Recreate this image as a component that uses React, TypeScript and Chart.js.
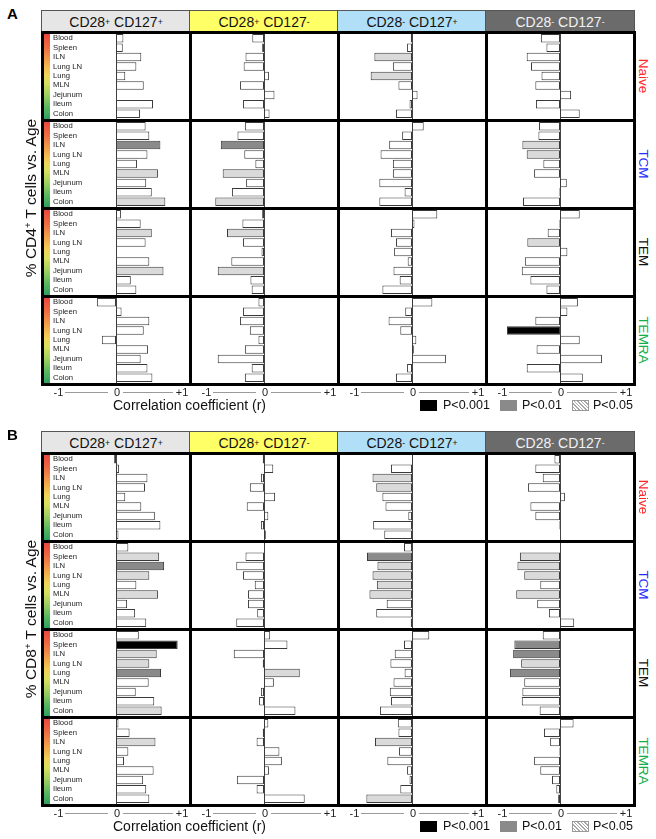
import React, { useEffect, useRef } from 'react';
import { Chart, registerables } from 'chart.js';

Chart.register(...registerables);

const FONT = '"Liberation Sans", Arial, Helvetica, sans-serif';

// ---------- categories / labels ----------
const TISSUES = ['Blood', 'Spleen', 'ILN', 'Lung LN', 'Lung', 'MLN', 'Jejunum', 'Ileum', 'Colon'];
const SUBSETS = ['Naive', 'TCM', 'TEM', 'TEMRA'];
const SUBSET_COLORS = ['#ff2626', '#1f2bff', '#111111', '#13ad4a'];
const CD28_SIGNS = ['+', '+', '-', '-'];
const CD127_SIGNS = ['+', '-', '+', '-'];
const HEADER_FILLS = ['#e6e6e6', '#ffff66', '#b1dff7', '#6b6b6b'];
const HEADER_INKS = ['#111111', '#111111', '#111111', '#f2f2f2'];
const SIG_FILLS = ['#ffffff', '#dadada', '#8a8a8a', '#000000'];
const LEGEND_LABELS = ['P<0.001', 'P<0.01', 'P<0.05'];
const X_TICKS = ['-1', '0', '+1'];
const X_TITLE = 'Correlation coefficient (r)';
const X_MIN = -1.2;
const X_MAX = 1.2;

// ---------- data: correlation r per [column][tissue] ----------
// Panel A, CD4
const CD4_NAIVE_R = [
  [0.12, 0.11, 0.41, 0.33, 0.15, 0.45, 0.01, 0.60, 0.39],
  [-0.19, -0.03, -0.30, -0.33, 0.08, -0.39, 0.17, -0.34, 0.09],
  [-0.02, -0.08, -0.61, -0.31, -0.67, -0.22, 0.09, -0.04, -0.26],
  [-0.31, -0.22, -0.54, -0.47, -0.30, -0.40, 0.18, -0.39, 0.32],
];
const CD4_NAIVE_P = [
  [0, 0, 0, 0, 0, 0, 0, 0, 0],
  [0, 0, 0, 0, 0, 0, 0, 0, 0],
  [0, 0, 1, 0, 1, 0, 0, 0, 0],
  [0, 0, 0, 0, 0, 0, 0, 0, 0],
];
const CD4_TCM_R = [
  [0.48, 0.54, 0.72, 0.51, 0.34, 0.68, 0.49, 0.58, 0.80],
  [-0.31, -0.43, -0.70, -0.32, -0.14, -0.67, -0.29, -0.52, -0.79],
  [0.19, -0.16, -0.37, -0.51, -0.31, -0.31, -0.53, -0.12, -0.53],
  [-0.34, -0.35, -0.61, -0.54, -0.27, -0.42, 0.11, -0.01, -0.60],
];
const CD4_TCM_P = [
  [0, 0, 2, 0, 0, 1, 0, 0, 1],
  [0, 0, 2, 0, 0, 1, 0, 0, 1],
  [0, 0, 0, 0, 0, 0, 0, 0, 0],
  [0, 0, 1, 1, 0, 0, 0, 0, 0],
];
const CD4_TEM_R = [
  [0.08, 0.40, 0.58, 0.48, 0.01, 0.54, 0.77, 0.24, 0.33],
  [-0.03, -0.35, -0.60, -0.34, -0.04, -0.53, -0.75, -0.22, -0.20],
  [0.41, 0.04, -0.34, -0.26, -0.29, -0.07, -0.30, -0.20, -0.48],
  [0.32, -0.01, -0.20, -0.53, 0.12, -0.57, -0.62, -0.48, -0.22],
];
const CD4_TEM_P = [
  [0, 0, 1, 0, 0, 0, 1, 0, 0],
  [0, 0, 1, 0, 0, 0, 1, 0, 0],
  [0, 0, 0, 0, 0, 0, 0, 0, 0],
  [0, 0, 0, 1, 0, 0, 0, 0, 0],
];
const CD4_TEMRA_R = [
  [-0.31, 0.09, 0.54, 0.45, -0.23, 0.52, 0.40, 0.51, 0.59],
  [-0.09, -0.34, -0.39, -0.23, -0.09, -0.31, -0.75, -0.20, -0.31],
  [0.33, -0.11, -0.38, -0.19, 0.07, 0.03, 0.55, -0.08, -0.26],
  [0.29, 0.12, -0.40, -0.86, 0.32, -0.38, 0.68, -0.54, 0.37],
];
const CD4_TEMRA_P = [
  [0, 0, 0, 0, 0, 0, 0, 0, 0],
  [0, 0, 0, 0, 0, 0, 0, 0, 0],
  [0, 0, 0, 0, 0, 0, 0, 0, 0],
  [0, 0, 0, 3, 0, 0, 0, 0, 0],
];

// Panel B, CD8
const CD8_NAIVE_R = [
  [-0.03, 0.05, 0.51, 0.47, 0.15, 0.41, 0.63, 0.72, 0.04],
  [-0.02, 0.15, -0.05, -0.23, 0.18, -0.28, 0.07, -0.05, 0.03],
  [0.01, -0.34, -0.64, -0.58, -0.48, -0.43, -0.06, -0.63, -0.45],
  [-0.09, -0.40, -0.28, -0.52, 0.08, -0.48, -0.40, -0.01, 0.0],
];
const CD8_NAIVE_P = [
  [0, 0, 0, 0, 0, 0, 0, 0, 0],
  [0, 0, 0, 0, 0, 0, 0, 0, 0],
  [0, 0, 1, 1, 0, 0, 0, 0, 0],
  [0, 0, 0, 0, 0, 0, 0, 0, 0],
];
const CD8_TCM_R = [
  [0.20, 0.70, 0.78, 0.54, 0.33, 0.68, 0.18, 0.31, 0.49],
  [0.01, -0.30, -0.45, -0.34, -0.15, -0.26, -0.26, -0.11, -0.45],
  [-0.13, -0.73, -0.56, -0.64, -0.57, -0.69, -0.41, -0.58, -0.02],
  [0.0, -0.65, -0.69, -0.58, -0.32, -0.71, -0.37, -0.18, 0.23],
];
const CD8_TCM_P = [
  [0, 1, 2, 1, 0, 1, 0, 0, 0],
  [0, 0, 0, 0, 0, 0, 0, 0, 0],
  [0, 2, 1, 1, 1, 1, 0, 0, 0],
  [0, 1, 1, 1, 0, 1, 0, 0, 0],
];
const CD8_TEM_R = [
  [0.37, 1.0, 0.66, 0.54, 0.73, 0.53, 0.32, 0.62, 0.74],
  [0.10, 0.38, -0.49, -0.02, 0.58, 0.16, -0.05, -0.08, 0.51],
  [0.28, -0.13, -0.28, -0.35, -0.12, -0.30, -0.36, -0.34, -0.52],
  [-0.28, -0.74, -0.76, -0.63, -0.81, -0.58, -0.61, -0.62, -0.33],
];
const CD8_TEM_P = [
  [0, 3, 1, 1, 2, 0, 0, 0, 1],
  [0, 0, 0, 0, 1, 0, 0, 0, 0],
  [0, 0, 0, 0, 0, 0, 0, 0, 0],
  [0, 2, 2, 1, 2, 0, 0, 0, 0],
];
const CD8_TEMRA_R = [
  [0.04, 0.22, 0.64, 0.20, 0.13, 0.61, 0.44, 0.49, 0.54],
  [0.07, -0.02, -0.12, 0.25, 0.29, 0.08, -0.44, -0.12, 0.66],
  [-0.23, -0.22, -0.60, -0.21, -0.40, -0.08, -0.04, -0.19, -0.74],
  [0.22, -0.26, -0.16, -0.01, -0.42, -0.32, -0.13, -0.06, -0.03],
];
const CD8_TEMRA_P = [
  [0, 0, 1, 0, 0, 0, 0, 0, 0],
  [0, 0, 0, 0, 0, 0, 0, 0, 0],
  [0, 0, 1, 0, 0, 0, 0, 0, 1],
  [0, 0, 0, 0, 0, 0, 0, 0, 0],
];

// ---------- layout ----------
const COL_X = [42, 190, 338, 486];
const COL_W = 148;
const GRID_RIGHT = 634;
const HEADER_H = 22;
const ROW_H = 88;
const PAD_Y = 1.5;
const LINE_W = 3;

const zeroLine = {
  id: 'zeroLine',
  beforeDatasetsDraw(chart: any) {
    const { ctx, chartArea } = chart;
    const x = Math.round(chart.scales.x.getPixelForValue(0)) + 0.5;
    ctx.save();
    ctx.strokeStyle = '#444444';
    ctx.lineWidth = 1;
    ctx.beginPath();
    ctx.moveTo(x, chartArea.top - PAD_Y);
    ctx.lineTo(x, chartArea.bottom + PAD_Y);
    ctx.stroke();
    ctx.restore();
  },
};

function BarCell({ values, sig, left, top }: { values: number[]; sig: number[]; left: number; top: number }) {
  const ref = useRef<HTMLCanvasElement>(null);
  useEffect(() => {
    const chart = new Chart(ref.current as HTMLCanvasElement, {
      type: 'bar',
      data: {
        labels: TISSUES,
        datasets: [
          {
            data: values,
            backgroundColor: sig.map((s) => SIG_FILLS[s]),
            borderColor: '#3a3a3a',
            borderWidth: 1,
            borderSkipped: false,
            barPercentage: 1,
            categoryPercentage: 0.9,
          },
        ],
      },
      options: {
        indexAxis: 'y',
        responsive: false,
        maintainAspectRatio: false,
        animation: false,
        devicePixelRatio: 1,
        events: [],
        layout: { padding: { top: PAD_Y, bottom: PAD_Y, left: 0, right: 0 } },
        plugins: { legend: { display: false }, tooltip: { enabled: false } },
        scales: {
          x: { type: 'linear', min: X_MIN, max: X_MAX, display: false },
          y: { type: 'category', display: false, offset: true },
        },
      } as any,
      plugins: [zeroLine],
    });
    return () => chart.destroy();
  }, []);
  return (
    <div style={{ position: 'absolute', left, top, width: COL_W, height: ROW_H }}>
      <canvas ref={ref} width={COL_W} height={ROW_H} style={{ display: 'block', width: COL_W, height: ROW_H }} />
    </div>
  );
}

const sup = (s: string) => (
  <span style={{ fontSize: '0.62em', verticalAlign: '0.55em', lineHeight: 0 }}>{s}</span>
);

function Panel({ letter, top, cell, rowsR, rowsP }: { letter: string; top: number; cell: string; rowsR: number[][][]; rowsP: number[][][] }) {
  const gridTop = top + HEADER_H;
  const bottom = gridTop + 4 * ROW_H;
  const els: any[] = [];

  els.push(
    <div key="letter" style={{ position: 'absolute', left: 7, top: top - 4, fontSize: 15, fontWeight: 'bold', lineHeight: '16px' }}>
      {letter}
    </div>
  );

  for (let c = 0; c < 4; c++) {
    els.push(
      <div
        key={'h' + c}
        style={{
          position: 'absolute', left: COL_X[c] - 1, top, width: COL_W + 2, height: HEADER_H + 1,
          boxSizing: 'border-box', background: HEADER_FILLS[c], border: '1.5px solid #555',
          color: HEADER_INKS[c], fontSize: 14, display: 'flex', alignItems: 'center', justifyContent: 'center',
          whiteSpace: 'nowrap', lineHeight: '14px', paddingTop: 1,
        }}
      >
        CD28{sup(CD28_SIGNS[c])}&nbsp;CD127{sup(CD127_SIGNS[c])}
      </div>
    );
  }

  for (let r = 0; r < 4; r++) {
    const rowTop = gridTop + r * ROW_H;
    for (let c = 0; c < 4; c++) {
      els.push(<BarCell key={`b${r}${c}`} values={rowsR[r][c]} sig={rowsP[r][c]} left={COL_X[c]} top={rowTop} />);
    }
    els.push(
      <div
        key={'strip' + r}
        style={{
          position: 'absolute', left: 43, top: rowTop + 1, width: 6.5, height: ROW_H - 2,
          background: 'linear-gradient(to bottom, #e8443e 0%, #ee6a42 16%, #f2a04a 32%, #f2d456 48%, #d8e060 58%, #9fd060 72%, #5cb860 86%, #2fa05e 100%)',
        }}
      />
    );
    const slot = (ROW_H - 2 * PAD_Y) / TISSUES.length;
    TISSUES.forEach((t, i) => {
      els.push(
        <div
          key={`t${r}${i}`}
          style={{
            position: 'absolute', left: 53, top: rowTop + PAD_Y + (i + 0.5) * slot, transform: 'translateY(-50%)',
            fontSize: 7.7, lineHeight: '8px', color: '#222', whiteSpace: 'nowrap',
          }}
        >
          {t}
        </div>
      );
    });
    els.push(
      <div
        key={'s' + r}
        style={{
          position: 'absolute', left: 643, top: rowTop + ROW_H / 2, transform: 'translate(-50%,-50%) rotate(90deg)',
          fontSize: 13.5, color: SUBSET_COLORS[r], whiteSpace: 'nowrap', lineHeight: '14px',
        }}
      >
        {SUBSETS[r]}
      </div>
    );
  }

  for (let k = 0; k <= 4; k++) {
    els.push(
      <div key={'hl' + k} style={{ position: 'absolute', left: COL_X[0] - LINE_W / 2, top: gridTop + k * ROW_H - LINE_W / 2, width: GRID_RIGHT - COL_X[0] + LINE_W, height: LINE_W, background: '#000' }} />
    );
  }
  [...COL_X, GRID_RIGHT].forEach((x, k) => {
    els.push(
      <div key={'vl' + k} style={{ position: 'absolute', left: x - LINE_W / 2, top: gridTop - LINE_W / 2, width: LINE_W, height: 4 * ROW_H + LINE_W, background: '#000' }} />
    );
  });

  els.push(
    <div
      key="ytitle"
      style={{
        position: 'absolute', left: 31, top: gridTop + 166, transform: 'translate(-50%,-50%) rotate(-90deg)',
        fontSize: 15.5, whiteSpace: 'nowrap', lineHeight: '16px', color: '#111',
      }}
    >
      % {cell}{sup('+')} T cells vs. Age
    </div>
  );

  const tickY = bottom + 8;
  for (let c = 0; c < 4; c++) {
    const z = COL_X[c] + 75;
    const offs = [-58.5, 0, 65];
    X_TICKS.forEach((t, i) => {
      els.push(
        <div key={`xt${c}${i}`} style={{ position: 'absolute', left: z + offs[i], top: tickY, transform: 'translate(-50%,-50%)', fontSize: 11, lineHeight: '12px', color: '#222' }}>
          {t}
        </div>
      );
    });
    els.push(<div key={`xl${c}a`} style={{ position: 'absolute', left: z - 52, top: tickY, width: 43, height: 1, background: '#9a9a9a' }} />);
    els.push(<div key={`xl${c}b`} style={{ position: 'absolute', left: z + 6, top: tickY, width: 50, height: 1, background: '#9a9a9a' }} />);
  }

  const titleY = bottom + 21;
  els.push(
    <div key="xtitle" style={{ position: 'absolute', left: 113, top: titleY, transform: 'translateY(-50%)', fontSize: 14, lineHeight: '16px', color: '#111', whiteSpace: 'nowrap' }}>
      {X_TITLE}
    </div>
  );

  const swX = [420, 500, 572];
  const txX = [443, 522, 593];
  const swFill = [
    '#000000',
    '#8a8a8a',
    'repeating-linear-gradient(45deg, #ffffff 0px, #ffffff 1.5px, #a8a8a8 1.5px, #a8a8a8 2.5px)',
  ];
  LEGEND_LABELS.forEach((l, i) => {
    els.push(
      <div key={'lg' + i} style={{ position: 'absolute', left: swX[i], top: titleY - 5, width: 17, height: 11, background: swFill[i], boxSizing: 'border-box', border: i === 2 ? '1px solid #999' : 'none' }} />
    );
    els.push(
      <div key={'lt' + i} style={{ position: 'absolute', left: txX[i], top: titleY, transform: 'translateY(-50%)', fontSize: 12.5, lineHeight: '14px', color: '#111', whiteSpace: 'nowrap' }}>
        {l}
      </div>
    );
  });

  return <>{els}</>;
}

export default function App() {
  return (
    <div style={{ position: 'absolute', left: 0, top: 0, width: 656, height: 839, background: '#fff', fontFamily: FONT, overflow: 'hidden' }}>
      <Panel
        letter="A"
        top={10}
        cell="CD4"
        rowsR={[CD4_NAIVE_R, CD4_TCM_R, CD4_TEM_R, CD4_TEMRA_R]}
        rowsP={[CD4_NAIVE_P, CD4_TCM_P, CD4_TEM_P, CD4_TEMRA_P]}
      />
      <Panel
        letter="B"
        top={431}
        cell="CD8"
        rowsR={[CD8_NAIVE_R, CD8_TCM_R, CD8_TEM_R, CD8_TEMRA_R]}
        rowsP={[CD8_NAIVE_P, CD8_TCM_P, CD8_TEM_P, CD8_TEMRA_P]}
      />
    </div>
  );
}
